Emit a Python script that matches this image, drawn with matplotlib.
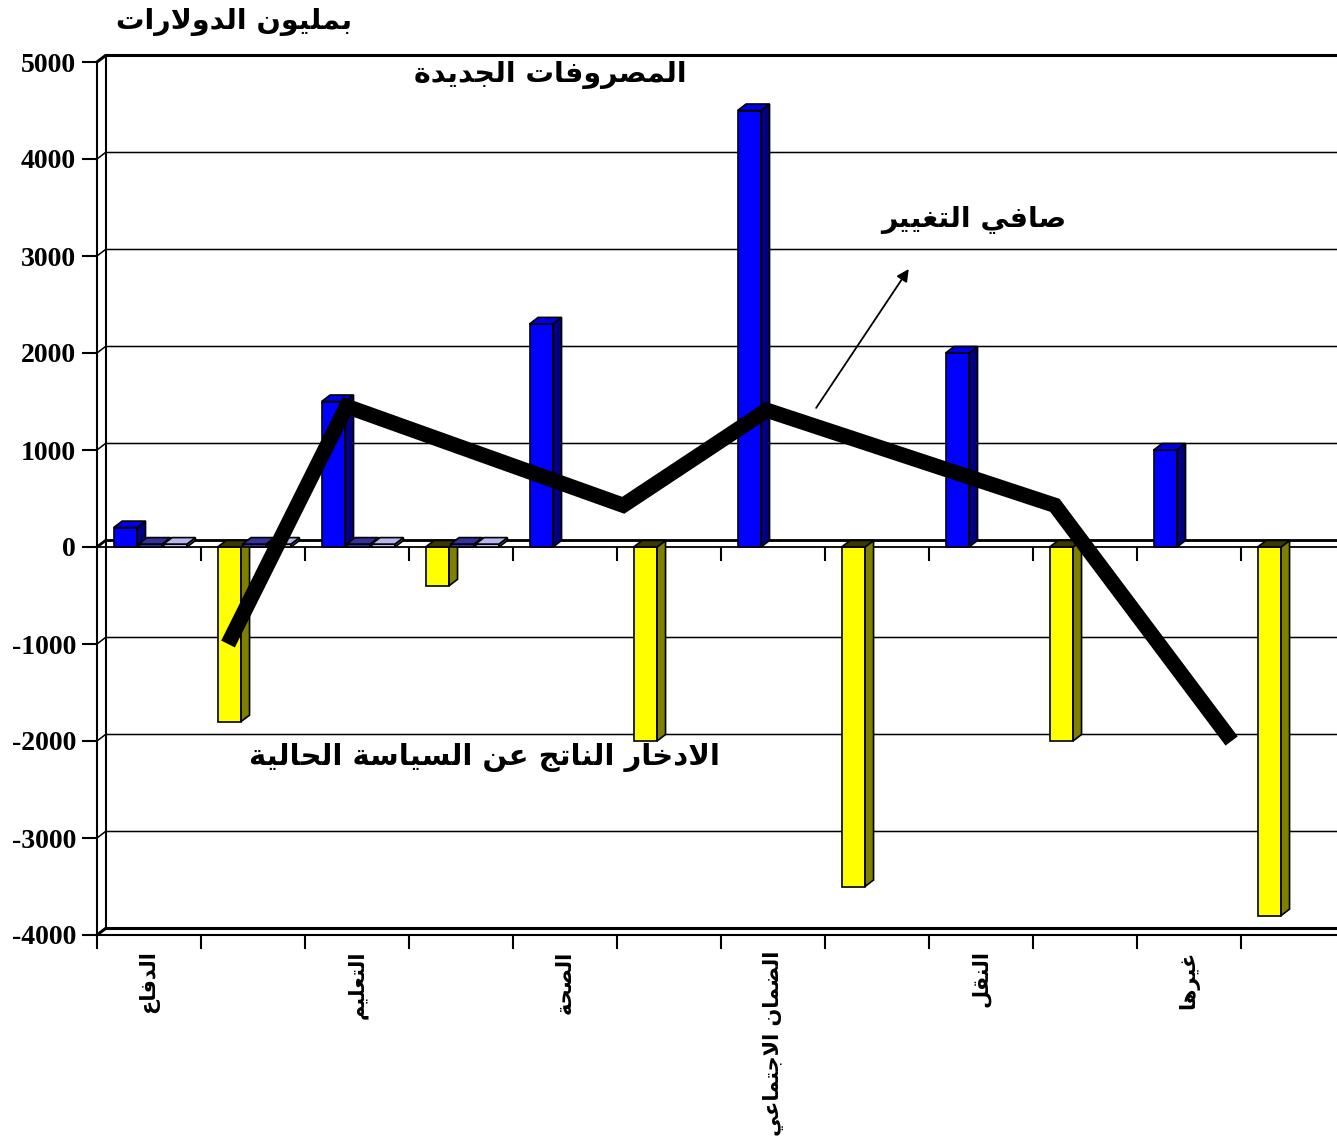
import matplotlib
matplotlib.use("Agg")
import matplotlib.pyplot as plt
from matplotlib.patches import Polygon, Rectangle

# --- data -------------------------------------------------------------
categories = ["الدفاع", "التعليم", "الصحة", "الضمان الاجتماعي", "النقل", "غيرها"]
new_spending = [200, 1500, 2300, 4500, 2000, 1000]          # blue columns
policy_savings = [-1800, -400, -2000, -3500, -2000, -3800]  # yellow columns
minor_a = [30, 30, 30, 30]                                  # flat plates, first four slots
minor_b = [30, 30, 30, 30]
net_values = [-1000, 1450, 430, 1410, 430, -2000]           # net change line
net_pos = [1.26, 2.40, 5.06, 6.44, 9.21, 10.91]

units_label = "بمليون الدولارات"
spending_label = "المصروفات الجديدة"
net_label = "صافي التغيير"
savings_label = "الادخار الناتج عن السياسة الحالية"
y_ticks = list(range(-4000, 5001, 1000))

# --- minimal arabic shaping (presentation forms, visual order) --------
FORMS = {
    'ا': ('\uFE8D', '\uFE8E', None, None),
    'ب': ('\uFE8F', '\uFE90', '\uFE91', '\uFE92'),
    'ة': ('\uFE93', '\uFE94', None, None),
    'ت': ('\uFE95', '\uFE96', '\uFE97', '\uFE98'),
    'ج': ('\uFE9D', '\uFE9E', '\uFE9F', '\uFEA0'),
    'ح': ('\uFEA1', '\uFEA2', '\uFEA3', '\uFEA4'),
    'خ': ('\uFEA5', '\uFEA6', '\uFEA7', '\uFEA8'),
    'د': ('\uFEA9', '\uFEAA', None, None),
    'ر': ('\uFEAD', '\uFEAE', None, None),
    'س': ('\uFEB1', '\uFEB2', '\uFEB3', '\uFEB4'),
    'ص': ('\uFEB9', '\uFEBA', '\uFEBB', '\uFEBC'),
    'ض': ('\uFEBD', '\uFEBE', '\uFEBF', '\uFEC0'),
    'ع': ('\uFEC9', '\uFECA', '\uFECB', '\uFECC'),
    'غ': ('\uFECD', '\uFECE', '\uFECF', '\uFED0'),
    'ف': ('\uFED1', '\uFED2', '\uFED3', '\uFED4'),
    'ق': ('\uFED5', '\uFED6', '\uFED7', '\uFED8'),
    'ل': ('\uFEDD', '\uFEDE', '\uFEDF', '\uFEE0'),
    'م': ('\uFEE1', '\uFEE2', '\uFEE3', '\uFEE4'),
    'ن': ('\uFEE5', '\uFEE6', '\uFEE7', '\uFEE8'),
    'ه': ('\uFEE9', '\uFEEA', '\uFEEB', '\uFEEC'),
    'و': ('\uFEED', '\uFEEE', None, None),
    'ي': ('\uFEF1', '\uFEF2', '\uFEF3', '\uFEF4'),
}
LAM_ALEF = {'ا': ('\uFEFB', '\uFEFC')}


def shape(text):
    def dual(c):
        return c in FORMS and FORMS[c][2] is not None

    out = []
    i, n = 0, len(text)
    while i < n:
        c = text[i]
        if c not in FORMS:
            out.append(c)
            i += 1
            continue
        prev_joins = i > 0 and dual(text[i - 1])
        if c == 'ل' and i + 1 < n and text[i + 1] in LAM_ALEF:
            iso, fin = LAM_ALEF[text[i + 1]]
            out.append(fin if prev_joins else iso)
            i += 2
            continue
        next_joins = dual(c) and i + 1 < n and text[i + 1] in FORMS
        iso, fin, ini, med = FORMS[c]
        if prev_joins and next_joins:
            out.append(med)
        elif next_joins:
            out.append(ini)
        elif prev_joins:
            out.append(fin)
        else:
            out.append(iso)
        i += 1
    return "".join(reversed(out))


# --- figure -----------------------------------------------------------
W, H = 1337, 1145
fig = plt.figure(figsize=(W / 100, H / 100), dpi=100)
ax = fig.add_axes([97 / W, 1 - 935 / H, 1248 / W, (935 - 62) / H])
ax.set_xlim(0, 12)
ax.set_ylim(-4000, 5000)

px_x = 12 / 1248            # slot units per pixel
px_y = 9000 / (935 - 62)    # value units per pixel
dx, dy = 8.5 * px_x, 6.5 * px_y

arabic = ["DejaVu Sans"]
serif = ["Liberation Serif", "DejaVu Serif"]

# back wall gridlines with the little corner diagonals
for v in y_ticks:
    lw = 2.2 if v in (5000, -4000) else 1.1
    ax.plot([0, dx, 12], [v, v + dy, v + dy], color="black", lw=lw,
            zorder=1, clip_on=False, solid_joinstyle="miter")
ax.plot([dx, dx], [-4000 + dy, 5000 + dy], color="black", lw=1.5, zorder=1,
        clip_on=False)
# zero floor
ax.plot([0, dx, 12], [0, dy, dy], color="black", lw=2.0, zorder=1)
ax.axhline(0, color="black", lw=1.3, zorder=2)
ax.vlines(range(1, 13), -14 * px_y, 0, color="black", lw=1.5, zorder=2,
          clip_on=False)


def bar3d(x0, w, v, front, side, top):
    lo, hi = min(0, v), max(0, v)
    ax.add_patch(Rectangle((x0, lo), w, hi - lo, facecolor=front,
                           edgecolor="black", lw=1.2, zorder=3))
    ax.add_patch(Polygon([(x0 + w, lo), (x0 + w + dx, lo + dy),
                          (x0 + w + dx, hi + dy), (x0 + w, hi)],
                         facecolor=side, edgecolor="black", lw=1.2, zorder=3))
    ax.add_patch(Polygon([(x0, hi), (x0 + dx, hi + dy),
                          (x0 + w + dx, hi + dy), (x0 + w, hi)],
                         facecolor=top, edgecolor="black", lw=1.2, zorder=3))


bw = 0.225
for i, (pos, neg) in enumerate(zip(new_spending, policy_savings)):
    bar3d(2 * i + 0.16, bw, pos, "#0000FF", "#000080", "#0000E8")
    bar3d(2 * i + 1.16, bw, neg, "#FFFF00", "#808000", "#3a3a00")
for s, (a, b) in enumerate(zip(minor_a, minor_b)):
    bar3d(s + 0.40, bw, a, "#3333A0", "#1a1a55", "#3333A0")
    bar3d(s + 0.64, bw, b, "#B8B8F0", "#666699", "#B8B8F0")

# net change line
ax.plot(net_pos, net_values, color="black", lw=11, zorder=5,
        solid_joinstyle="miter", solid_capstyle="butt")
ax.annotate("", xy=(7.82, 2890), xytext=(6.90, 1410),
            arrowprops=dict(arrowstyle="-|>", color="black", lw=1.3,
                            mutation_scale=18), zorder=6)

# axes styling
for side_name in ("top", "right"):
    ax.spines[side_name].set_visible(False)
ax.spines["left"].set_linewidth(1.5)
ax.spines["bottom"].set_linewidth(1.5)
ax.set_yticks(y_ticks)
ax.set_yticklabels([str(v) for v in y_ticks], family=serif,
                   fontweight="bold", fontsize=20)
ax.tick_params(axis="y", length=11, width=1.5, pad=4)
ax.set_xticks(range(13))
ax.set_xticklabels([])
ax.tick_params(axis="x", which="major", length=10, width=1.5)
ax.set_xticks([2 * i + 0.5 for i in range(len(categories))],
              [shape(c) for c in categories], minor=True)
ax.tick_params(axis="x", which="minor", length=0, pad=11)
for lab in ax.get_xticklabels(minor=True):
    lab.set_rotation(90)
    lab.set_family(arabic)
    lab.set_fontweight("bold")
    lab.set_fontsize(15)

# annotations
def fig_text(x, y, s, size):
    fig.text(x / W, 1 - y / H, shape(s), ha="center", va="center",
             family=arabic, fontweight="bold", fontsize=size)

fig_text(234, 22, units_label, 20.5)
fig_text(550, 75, spending_label, 20.5)
fig_text(974, 220, net_label, 20.5)
fig_text(484, 757, savings_label, 21)

fig.savefig("out.png", dpi=100, facecolor="white")
